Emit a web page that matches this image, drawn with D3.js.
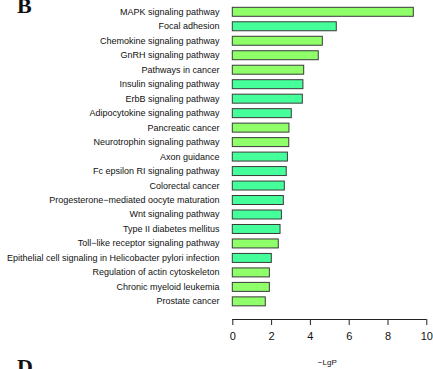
<!DOCTYPE html>
<html>
<head>
<meta charset="utf-8">
<script src="https://cdn.jsdelivr.net/npm/d3@7/dist/d3.min.js"></script>
<style>
  html, body { margin: 0; padding: 0; background: #fff; }
  svg { display: block; }
</style>
</head>
<body>
<svg id="chart" width="433" height="369"></svg>
<script>
// KEGG pathway enrichment, -log10(P)
const pathways = [
  "MAPK signaling pathway",
  "Focal adhesion",
  "Chemokine signaling pathway",
  "GnRH signaling pathway",
  "Pathways in cancer",
  "Insulin signaling pathway",
  "ErbB signaling pathway",
  "Adipocytokine signaling pathway",
  "Pancreatic cancer",
  "Neurotrophin signaling pathway",
  "Axon guidance",
  "Fc epsilon RI signaling pathway",
  "Colorectal cancer",
  "Progesterone\u2212mediated oocyte maturation",
  "Wnt signaling pathway",
  "Type II diabetes mellitus",
  "Toll\u2212like receptor signaling pathway",
  "Epithelial cell signaling in Helicobacter pylori infection",
  "Regulation of actin cytoskeleton",
  "Chronic myeloid leukemia",
  "Prostate cancer"
];
const lgP = [9.33, 5.36, 4.64, 4.43, 3.68, 3.64, 3.61, 3.04, 2.92, 2.91, 2.84,
             2.78, 2.68, 2.63, 2.53, 2.46, 2.37, 2.01, 1.91, 1.91, 1.70];
// group of each pathway: "a" light green, "b" spring green
const group = ["a","b","a","a","a","b","b","b","a","a","b",
               "b","b","b","b","b","a","b","a","a","a"];
const xTicks = [0, 2, 4, 6, 8, 10];
const xTitle = "\u2212LgP";

const svg = d3.select("#chart");
const fontSans = "'Liberation Sans', Arial, Helvetica, sans-serif";

const x = d3.scaleLinear().domain([0, 10]).range([232.3, 426.3]);
const y = d3.scaleBand().domain(pathways).range([4.56, 308.6])
  .paddingInner(0.38).paddingOuter(0.19);
const color = d3.scaleOrdinal().domain(["a", "b"]).range(["#8fff6a", "#45ff9b"]);

const rows = pathways.map((p, i) => ({ name: p, v: lgP[i], g: group[i] }));

// bars
svg.append("g").selectAll("rect").data(rows).join("rect")
  .attr("x", x(0))
  .attr("y", d => y(d.name))
  .attr("width", d => x(d.v) - x(0))
  .attr("height", y.bandwidth())
  .attr("fill", d => color(d.g))
  .attr("stroke", "#3a3a3a")
  .attr("stroke-width", 1);

// category labels
svg.append("g").selectAll("text").data(rows).join("text")
  .attr("x", 219.5)
  .attr("y", d => y(d.name) + y.bandwidth() / 2)
  .attr("text-anchor", "end")
  .attr("dominant-baseline", "central")
  .attr("font-family", fontSans)
  .attr("font-size", 9)
  .attr("fill", "#111")
  .text(d => d.name);

// x axis
const axis = d3.axisBottom(x).tickValues(xTicks).tickSize(6).tickPadding(7)
  .tickFormat(d3.format("d"));
const gx = svg.append("g").attr("transform", "translate(0,319)").call(axis);
gx.select(".domain").attr("d", `M${x(0)},0.5H${x(10)}`).attr("stroke", "#222");
gx.selectAll(".tick line").attr("stroke", "#222");
gx.selectAll(".tick text").attr("font-family", fontSans).attr("font-size", 11)
  .attr("fill", "#111");

svg.append("text")
  .attr("x", (x(0) + x(10)) / 2 - 2)
  .attr("y", 365)
  .attr("text-anchor", "middle")
  .attr("font-family", fontSans)
  .attr("font-size", 8)
  .attr("fill", "#111")
  .text(xTitle);

// panel letters
svg.append("text").attr("x", 17).attr("y", 13)
  .attr("font-family", "'Liberation Serif', 'Times New Roman', serif")
  .attr("font-weight", "bold").attr("font-size", 22).attr("fill", "#111")
  .text("B");
svg.append("text").attr("x", 17).attr("y", 374)
  .attr("font-family", "'Liberation Serif', 'Times New Roman', serif")
  .attr("font-weight", "bold").attr("font-size", 22).attr("fill", "#111")
  .text("D");
</script>
</body>
</html>
